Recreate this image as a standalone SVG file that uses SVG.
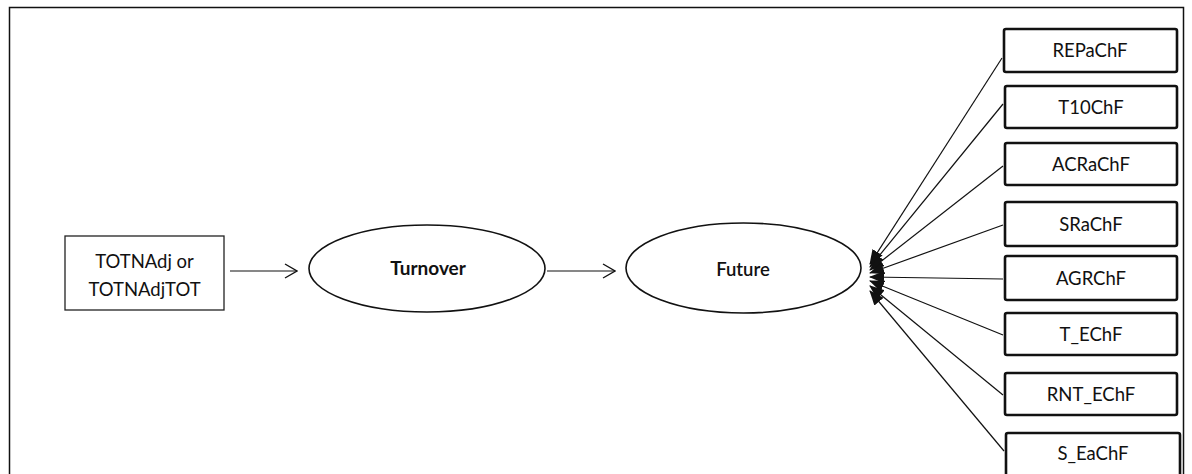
<svg xmlns="http://www.w3.org/2000/svg" width="1192" height="474" viewBox="0 0 1192 474">
  <style>
    .lbl { font-family: Lato, "Open Sans", "Liberation Sans", sans-serif; font-size: 18.5px; fill: #111; text-anchor: middle; }
    .bold { font-weight: bold; font-size: 19px; }
    .frame { fill: none; stroke: #111; stroke-width: 1.5; }
    .src { fill: #fff; stroke: #222; stroke-width: 1.3; }
    .ell { fill: #fff; stroke: #111; stroke-width: 1.6; }
    .ind { fill: #fff; stroke: #111; stroke-width: 2.6; }
    .edge { fill: none; stroke: #111; stroke-width: 1.2; }
  </style>
  <defs>
    <marker id="open" viewBox="0 0 14 16" refX="13" refY="8" markerWidth="14" markerHeight="16" markerUnits="userSpaceOnUse" orient="auto">
      <path d="M1,1 L13,8 L1,15" fill="none" stroke="#111" stroke-width="1.4"/>
    </marker>
    <marker id="solid" viewBox="0 0 15 12" refX="14" refY="6" markerWidth="15" markerHeight="12" markerUnits="userSpaceOnUse" orient="auto">
      <path d="M0,0 L15,6 L0,12 Z" fill="#111"/>
    </marker>
  </defs>

  <rect width="1192" height="474" fill="#fff"/>
  <!-- outer frame -->
  <rect class="frame" x="9.5" y="7.5" width="1174" height="480"/>

  <g id="connectors">
    <line class="edge" x1="230" y1="271" x2="297" y2="271" marker-end="url(#open)"/>
    <line class="edge" x1="547" y1="271" x2="615" y2="271" marker-end="url(#open)"/>
    <line class="edge" x1="1002" y1="58" x2="870" y2="264" marker-end="url(#solid)"/>
    <line class="edge" x1="1003" y1="104" x2="870" y2="267" marker-end="url(#solid)"/>
    <line class="edge" x1="1003" y1="166" x2="870" y2="270" marker-end="url(#solid)"/>
    <line class="edge" x1="1003" y1="225" x2="870" y2="273" marker-end="url(#solid)"/>
    <line class="edge" x1="1003" y1="279" x2="870" y2="277" marker-end="url(#solid)"/>
    <line class="edge" x1="1003" y1="335" x2="870" y2="281" marker-end="url(#solid)"/>
    <line class="edge" x1="1003" y1="395" x2="870" y2="286" marker-end="url(#solid)"/>
    <line class="edge" x1="1004" y1="451" x2="870" y2="291" marker-end="url(#solid)"/>
  </g>

  <g id="node-totnadj">
    <rect class="src" x="65" y="236" width="159" height="74"/>
    <text class="lbl" x="144.5" y="268">TOTNAdj or</text>
    <text class="lbl" x="144.5" y="296">TOTNAdjTOT</text>
  </g>

  <g id="node-turnover">
    <ellipse class="ell" cx="427" cy="268.5" rx="118" ry="43.5"/>
    <text class="lbl bold" x="428" y="275">Turnover</text>
  </g>

  <g id="node-future">
    <ellipse class="ell" cx="743.5" cy="268" rx="117.5" ry="45"/>
    <text class="lbl" x="743" y="276" font-weight="600">Future</text>
  </g>

  <g id="node-repachf">
    <rect class="ind" x="1004" y="29" width="173" height="43" rx="2"/>
    <text class="lbl" x="1090" y="57">REPaChF</text>
  </g>
  <g id="node-t10chf">
    <rect class="ind" x="1005" y="86" width="172" height="42" rx="2"/>
    <text class="lbl" x="1091" y="114">T10ChF</text>
  </g>
  <g id="node-acrachf">
    <rect class="ind" x="1005" y="143" width="172" height="42" rx="2"/>
    <text class="lbl" x="1091" y="171">ACRaChF</text>
  </g>
  <g id="node-srachf">
    <rect class="ind" x="1005" y="202" width="172" height="44" rx="2"/>
    <text class="lbl" x="1091" y="231">SRaChF</text>
  </g>
  <g id="node-agrchf">
    <rect class="ind" x="1005" y="256" width="172" height="44" rx="2"/>
    <text class="lbl" x="1091" y="285">AGRChF</text>
  </g>
  <g id="node-t-echf">
    <rect class="ind" x="1005" y="313" width="172" height="42" rx="2"/>
    <text class="lbl" x="1091" y="341">T_EChF</text>
  </g>
  <g id="node-rnt-echf">
    <rect class="ind" x="1005" y="373" width="172" height="42" rx="2"/>
    <text class="lbl" x="1091" y="401">RNT_EChF</text>
  </g>
  <g id="node-s-eachf">
    <rect class="ind" x="1006" y="433" width="174" height="46" rx="2"/>
    <text class="lbl" x="1093" y="460">S_EaChF</text>
  </g>
</svg>
